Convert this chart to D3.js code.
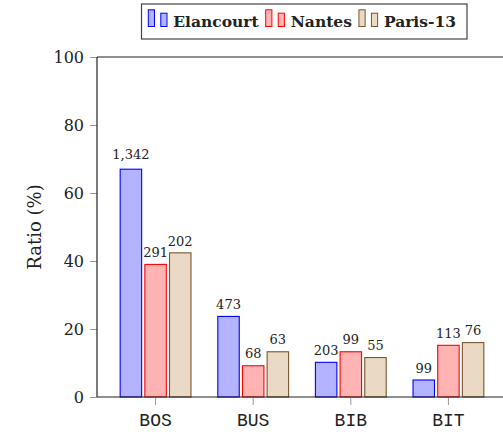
<!DOCTYPE html>
<html>
<head>
<meta charset="utf-8">
<script src="https://cdn.jsdelivr.net/npm/d3@7"></script>
<style>
  html, body { margin: 0; padding: 0; background: #fff; }
  svg { display: block; }
</style>
</head>
<body>
<svg id="chart" width="503" height="434"></svg>
<script>
// Categories and series
const categories = ["BOS", "BUS", "BIB", "BIT"];
const seriesNames = ["Elancourt", "Nantes", "Paris-13"];

// Ratio (%) per category for each site
const elancourtRatio = [67.0, 23.7, 10.2, 5.0];
const nantesRatio    = [39.0, 9.2, 13.3, 15.2];
const parisRatio     = [42.4, 13.3, 11.6, 16.0];

// Counts printed above the bars
const elancourtCount = [1342, 473, 203, 99];
const nantesCount    = [291, 68, 99, 113];
const parisCount     = [202, 63, 55, 76];

const yTicks = [0, 20, 40, 60, 80, 100];

const ratios = [elancourtRatio, nantesRatio, parisRatio];
const counts = [elancourtCount, nantesCount, parisCount];

const fills   = ["#b3b3ff", "#ffb3b3", "#ead9c5"];
const strokes = ["#0000ff", "#ff0000", "#7a5530"];

const svg = d3.select("#chart");
const plot = { left: 97, right: 507, top: 57, bottom: 397 };

const x = d3.scaleBand()
  .domain(categories)
  .range([plot.left, plot.right])
  .paddingInner(0)
  .paddingOuter(0.1);

const xs = d3.scaleBand()
  .domain(seriesNames)
  .range([-37, 37])
  .paddingInner(0.13)
  .paddingOuter(0.065);

const y = d3.scaleLinear().domain([0, 100]).range([plot.bottom, plot.top]);

const fmt = d3.format(",");
const serif = "'DejaVu Serif', serif";

// Bars
const rows = [];
seriesNames.forEach((s, si) => {
  categories.forEach((c, ci) => {
    rows.push({ s, si, c, ratio: ratios[si][ci], count: counts[si][ci] });
  });
});

const bx = d => x(d.c) + x.bandwidth() / 2 + xs(d.s);

svg.append("g").selectAll("rect")
  .data(rows)
  .join("rect")
  .attr("x", bx)
  .attr("y", d => y(d.ratio))
  .attr("width", xs.bandwidth())
  .attr("height", d => y(0) - y(d.ratio))
  .attr("fill", d => fills[d.si])
  .attr("stroke", d => strokes[d.si])
  .attr("stroke-width", 1.1);

// Count labels above bars (numbers with a comma sit a little higher)
svg.append("g").selectAll("text")
  .data(rows)
  .join("text")
  .attr("x", d => bx(d) + xs.bandwidth() / 2)
  .attr("y", d => y(d.ratio) - (d.count >= 1000 ? 10.5 : 7.3))
  .attr("text-anchor", "middle")
  .attr("font-family", serif)
  .attr("font-size", 13)
  .attr("fill", "#222")
  .text(d => fmt(d.count));

// Axes
const yAxis = d3.axisLeft(y).tickValues(yTicks).tickSize(7).tickPadding(6);
const gy = svg.append("g").attr("transform", `translate(${plot.left},0)`).call(yAxis);
gy.select(".domain").remove();
gy.selectAll(".tick line").attr("stroke", "#999");
gy.selectAll(".tick text")
  .attr("font-family", serif)
  .attr("font-size", 16)
  .attr("fill", "#222")
  .attr("dy", "0.36em");

const xAxis = d3.axisBottom(x).tickSize(8).tickPadding(6);
const gx = svg.append("g").attr("transform", `translate(0,${plot.bottom})`).call(xAxis);
gx.select(".domain").remove();
gx.selectAll(".tick line").attr("stroke", "#999");
gx.selectAll(".tick text")
  .attr("font-family", "'Liberation Mono', monospace")
  .attr("font-size", 18)
  .attr("fill", "#222")
  .attr("y", null)
  .attr("dy", null)
  .attr("transform", "translate(0,28.5)");

// Frame lines: left, top and bottom
const frame = svg.append("g").attr("stroke", "#222").attr("stroke-width", 1.2).attr("fill", "none");
frame.append("line").attr("x1", plot.left).attr("x2", plot.left).attr("y1", plot.top).attr("y2", plot.bottom);
frame.append("line").attr("x1", plot.left).attr("x2", plot.right).attr("y1", plot.top).attr("y2", plot.top);
frame.append("line").attr("x1", plot.left).attr("x2", plot.right).attr("y1", plot.bottom).attr("y2", plot.bottom);

// Y axis title
svg.append("text")
  .attr("transform", `translate(41,${(plot.top + plot.bottom) / 2}) rotate(-90)`)
  .attr("text-anchor", "middle")
  .attr("font-family", serif)
  .attr("font-size", 18)
  .attr("fill", "#222")
  .text("Ratio (%)");

// Legend
const legend = svg.append("g");
const legendBox = legend.append("rect")
  .attr("fill", "#fff")
  .attr("stroke", "#444")
  .attr("stroke-width", 1.2);

let lx = 148.3;
const baseY = 26.5;
seriesNames.forEach((s, si) => {
  legend.append("rect")
    .attr("x", lx).attr("y", baseY - 16.7)
    .attr("width", 6.2).attr("height", 16.7)
    .attr("fill", fills[si]).attr("stroke", strokes[si]).attr("stroke-width", 1);
  legend.append("rect")
    .attr("x", lx + 12.5).attr("y", baseY - 13.3)
    .attr("width", 6.2).attr("height", 13.3)
    .attr("fill", fills[si]).attr("stroke", strokes[si]).attr("stroke-width", 1);
  const t = legend.append("text")
    .attr("x", lx + 25)
    .attr("y", baseY)
    .attr("font-family", serif)
    .attr("font-weight", "bold")
    .attr("font-size", 15.5)
    .attr("fill", "#222")
    .text(s);
  lx = lx + 25 + t.node().getComputedTextLength() + 7;
});
legendBox
  .attr("x", 141.5).attr("y", 4)
  .attr("width", lx - 141.5 + 4).attr("height", 35);
</script>
</body>
</html>
